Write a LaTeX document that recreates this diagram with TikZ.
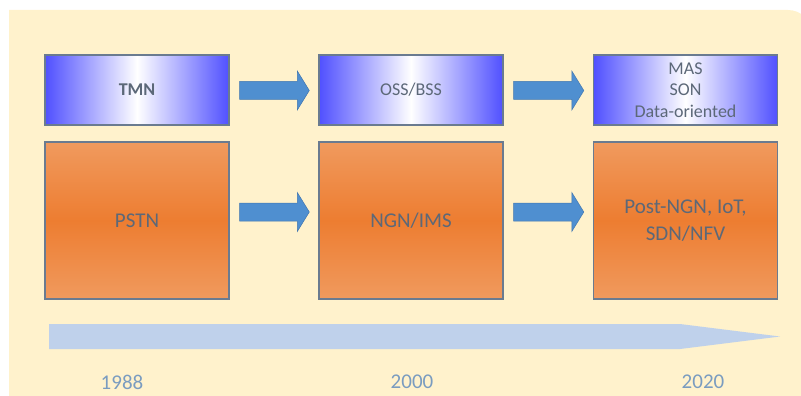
\documentclass[tikz,border=0pt]{standalone}
\usepackage{fontspec}
\setmainfont{Carlito}
\usetikzlibrary{calc}

\definecolor{cream}{HTML}{FFF2CC}
\definecolor{boxblue}{HTML}{5050FF}
\definecolor{orangetop}{HTML}{F09A5E}
\definecolor{orangemid}{HTML}{ED7D31}
\definecolor{boxedge}{HTML}{6A7B90}
\definecolor{labelgray}{HTML}{5C6878}
\definecolor{arrowblue}{HTML}{4F8FD0}
\definecolor{arrowedge}{HTML}{4277B0}
\definecolor{timeblue}{HTML}{BFD1EB}
\definecolor{yearblue}{HTML}{7A9CC0}

\tikzset{
  mgmtbox/.style={draw=boxedge, line width=1.4pt, minimum width=184pt, minimum height=70pt,
    inner sep=0pt, left color=boxblue, right color=boxblue, middle color=white,
    text=labelgray, font=\fontsize{18}{21.5}\selectfont, align=center},
  netbox/.style={draw=boxedge, line width=1.4pt, minimum width=184pt, minimum height=157pt,
    inner sep=0pt, top color=orangetop, bottom color=orangetop, middle color=orangemid,
    text=labelgray, font=\fontsize{21}{27}\selectfont, align=center},
  fatarrow/.style={fill=arrowblue, draw=arrowedge, line width=0.5pt},
  year/.style={text=yearblue, font=\fontsize{21}{25}\selectfont},
}

% block arrow from #1 to #2 (shaft half height 9, head half height 19.5, head length 12)
\newcommand\blockarrow[2]{%
  \path[fatarrow] ($(#1)+(0,9)$) -- ($(#2)+(-12,9)$) -- ($(#2)+(-12,19.5)$) -- (#2)
    -- ($(#2)+(-12,-19.5)$) -- ($(#2)+(-12,-9)$) -- ($(#1)+(0,-9)$) -- cycle;}

\begin{document}
\begin{tikzpicture}[x=1pt, y=-1pt]
  \useasboundingbox (0,0) rectangle (801,396);
  % backdrop
  \fill[cream] (9,410) -- (9,10) [rounded corners=24pt] -- (812,10) [sharp corners] -- (812,410) -- cycle;

  % management layer
  \node[mgmtbox] (tmn) at (137,90) {\bfseries TMN};
  \node[mgmtbox] (oss) at (411,90) {OSS/BSS};
  \node[mgmtbox] (mas) at (685.5,90) {MAS\\SON\\Data-oriented};

  % network layer
  \node[netbox] (pstn) at (137,220.5) {PSTN};
  \node[netbox] (ngn) at (411,220.5) {NGN/IMS};
  \node[netbox] (post) at (685.5,220.5) {Post-NGN, IoT,\\SDN/NFV};

  % transition arrows
  \coordinate (t1s) at ($(tmn.east)+(10,0.5)$);
  \coordinate (t1e) at ($(oss.west)+(-9,0.5)$);
  \coordinate (t2s) at ($(oss.east)+(10,0.5)$);
  \coordinate (t2e) at ($(mas.west)+(-9,0.5)$);
  \coordinate (b1s) at ($(pstn.east)+(10,-8.5)$);
  \coordinate (b1e) at ($(ngn.west)+(-9,-8.5)$);
  \coordinate (b2s) at ($(ngn.east)+(10,-8.5)$);
  \coordinate (b2e) at ($(post.west)+(-9,-8.5)$);
  \blockarrow{t1s}{t1e}
  \blockarrow{t2s}{t2e}
  \blockarrow{b1s}{b1e}
  \blockarrow{b2s}{b2e}

  % time line
  \fill[timeblue] (49,324) -- (680,324) -- (780,336.5) -- (680,349) -- (49,349) -- cycle;
  \node[year] (y1) at (122,382) {1988};
  \node[year] (y2) at (412,382) {2000};
  \node[year] (y3) at (703,382) {2020};
\end{tikzpicture}
\end{document}
